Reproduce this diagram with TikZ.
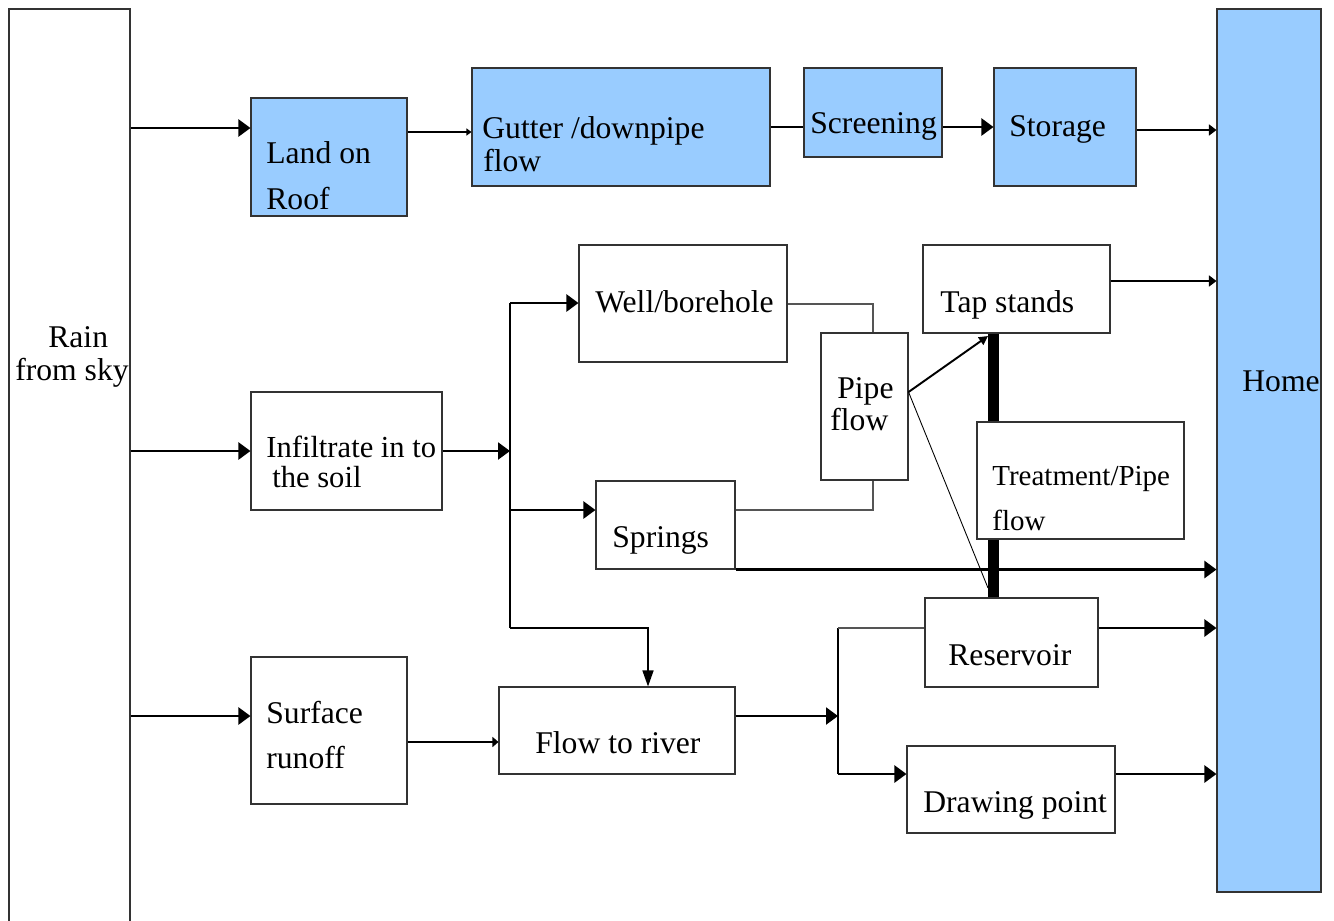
\documentclass[tikz,border=0pt]{standalone}
\usepackage{fontspec}
\setmainfont{Liberation Serif}
\usetikzlibrary{arrows.meta,fit}
\definecolor{skyblue}{HTML}{99CCFF}
\definecolor{edgegray}{HTML}{333333}
\definecolor{wiregray}{HTML}{555555}
\tikzset{
  box/.style={draw=edgegray, line width=0.6pt, fill=white, inner sep=0pt},
  bluebox/.style={box, fill=skyblue},
  txt/.style={anchor=base west, inner sep=0pt, font=\fontsize{18}{21}\selectfont},
  smalltxt/.style={txt, font=\fontsize{16.5}{19}\selectfont},
  wire/.style={draw=wiregray, line width=0.6pt},
  feed/.style={line width=1.3pt, -{Triangle[length=0.24cm,width=0.34cm]}},
  smallfeed/.style={line width=0.8pt, -{Triangle[length=0.15cm,width=0.22cm]}},
  tinyfeed/.style={line width=0.7pt, -{Triangle[length=0.1cm,width=0.14cm]}},
}
\begin{document}
\begin{tikzpicture}[x=0.02cm, y=-0.02cm]
    \useasboundingbox (0,0) rectangle (1334,920);

    % boxes
    \node[box, fit={(9,9) (130,940)}] (rain) {};
    \node[bluebox, fit={(251,98) (407,216)}] (roof) {};
    \node[bluebox, fit={(472,68) (770,186)}] (gutter) {};
    \node[bluebox, fit={(804,68) (942,157)}] (screen) {};
    \node[bluebox, fit={(994,68) (1136,186)}] (store) {};
    \node[bluebox, fit={(1217,9) (1321,892)}] (home) {};
    \node[box, fit={(579,245) (787,362)}] (well) {};
    \node[box, fit={(923,245) (1110,333)}] (tap) {};
    \node[box, fit={(821,333) (908,480)}] (pipe) {};
    \node[box, fit={(251,392) (442,510)}] (soil) {};
    \node[box, fit={(596,481) (735,569)}] (springs) {};
    \node[box, fit={(925,598) (1098,687)}] (res) {};
    \node[box, fit={(251,657) (407,804)}] (runoff) {};
    \node[box, fit={(499,687) (735,774)}] (river) {};
    \node[box, fit={(907,746) (1115,833)}] (drawpt) {};

    % thick pipe behind the treatment box
    \coordinate (barX) at (993,0);
    \draw[line width=0.22cm] (tap.south -| barX) -- (res.north -| barX);
    \node[box, fit={(977,422) (1184,539)}] (treat) {};

    % texts
    \node[txt] (rainA) at (48,347) {Rain};
    \node[txt] (rainB) at (15,380) {from sky};
    \node[txt] (roofA) at (266,163) {Land on};
    \node[txt] (roofB) at (266,209) {Roof};
    \node[txt] (gutterA) at (482,138) {Gutter /downpipe};
    \node[txt] (gutterB) at (483,171) {flow};
    \node[txt] (screenA) at (810,133) {Screening};
    \node[txt] (storeA) at (1009,136) {Storage};
    \node[txt] (homeA) at (1242,391) {Home};
    \node[txt] (wellA) at (595,312) {Well/borehole};
    \node[txt] (tapA) at (940,312) {Tap stands};
    \node[txt] (pipeA) at (837,398) {Pipe};
    \node[txt] (pipeB) at (830,430) {flow};
    \node[smalltxt] (treatA) at (992,485) {Treatment/Pipe};
    \node[smalltxt] (treatB) at (992,530) {flow};
    \node[txt, font=\fontsize{17.4}{20}\selectfont] (soilA) at (266,457) {Infiltrate in to};
    \node[txt, font=\fontsize{17.4}{20}\selectfont] (soilB) at (272,487) {the soil};
    \node[txt] (springsA) at (612,547) {Springs};
    \node[txt] (resA) at (948,665) {Reservoir};
    \node[txt] (runoffA) at (266,723) {Surface};
    \node[txt] (runoffB) at (266,768) {runoff};
    \node[txt] (riverA) at (535,753) {Flow to river};
    \node[txt] (drawptA) at (923,812) {Drawing point};

    % levels and junctions
    \coordinate (lvlRoof) at (0,128);
    \coordinate (lvlGutter) at (0,132);
    \coordinate (lvlTop) at (0,127);
    \coordinate (lvlStore) at (0,130);
    \coordinate (lvlTap) at (0,281);
    \coordinate (lvlSoil) at (0,451);
    \coordinate (lvlSpring) at (0,510);
    \coordinate (lvlRes) at (0,628);
    \coordinate (lvlRun) at (0,716);
    \coordinate (lvlRunB) at (0,742);
    \coordinate (lvlDraw) at (0,774);
    \coordinate (lvlPipe) at (0,392);
    \coordinate (split) at (510,451);
    \coordinate (splitTop) at (510,303);
    \coordinate (splitLow) at (510,628);
    \coordinate (riverIn) at (648,628);
    \coordinate (pipeTop) at (873,304);
    \coordinate (pipeLow) at (873,510);
    \coordinate (tapIn) at (988,336);
    \coordinate (resIn) at (988,588);
    \coordinate (mergeMid) at (838,716);
    \coordinate (mergeTop) at (838,628);
    \coordinate (mergeLow) at (838,774);

    % roof line
    \draw[feed] (rain.east |- lvlRoof) -- (roof.west |- lvlRoof);
    \draw[tinyfeed] (roof.east |- lvlGutter) -- (gutter.west |- lvlGutter);
    \draw[line width=1.3pt] (gutter.east |- lvlTop) -- (screen.west |- lvlTop);
    \draw[feed] (screen.east |- lvlTop) -- (store.west |- lvlTop);
    \draw[smallfeed] (store.east |- lvlStore) -- (home.west |- lvlStore);

    % ground water line
    \draw[feed] (rain.east |- lvlSoil) -- (soil.west |- lvlSoil);
    \draw[feed] (soil.east |- split) -- (split);
    \draw[line width=0.8pt] (splitTop) -- (splitLow);
    \draw[feed] (splitTop) -- (well.west |- splitTop);
    \draw[feed] (splitTop |- lvlSpring) -- (springs.west |- lvlSpring);
    \draw[line width=0.8pt, -{Triangle[length=0.32cm,width=0.22cm]}]
      (splitLow) -- (riverIn) -- (riverIn |- river.north);
    \draw[wire] (well.east |- pipeTop) -- (pipeTop) -- (pipeTop |- pipe.north);
    \draw[wire] (springs.east |- pipeLow) -- (pipeLow) -- (pipeLow |- pipe.south);
    \draw[line width=1.1pt, -{Triangle[length=0.18cm,width=0.18cm]}]
      (pipe.east |- lvlPipe) -- (tapIn);
    \draw[line width=0.5pt] (pipe.east |- lvlPipe) -- (resIn);
    \draw[smallfeed] (tap.east |- lvlTap) -- (home.west |- lvlTap);
    \draw[feed] (springs.south east) -- (home.west |- springs.south east);

    % surface line
    \draw[feed] (rain.east |- lvlRun) -- (runoff.west |- lvlRun);
    \draw[line width=0.8pt, -{Triangle[length=0.12cm,width=0.2cm]}]
      (runoff.east |- lvlRunB) -- (river.west |- lvlRunB);
    \draw[feed] (river.east |- mergeMid) -- (mergeMid);
    \draw[line width=0.8pt] (mergeTop) -- (mergeLow);
    \draw[wire] (mergeTop) -- (res.west |- mergeTop);
    \draw[feed] (mergeLow) -- (drawpt.west |- mergeLow);
    \draw[feed] (res.east |- lvlRes) -- (home.west |- lvlRes);
    \draw[feed] (drawpt.east |- lvlDraw) -- (home.west |- lvlDraw);
  \end{tikzpicture}
\end{document}
